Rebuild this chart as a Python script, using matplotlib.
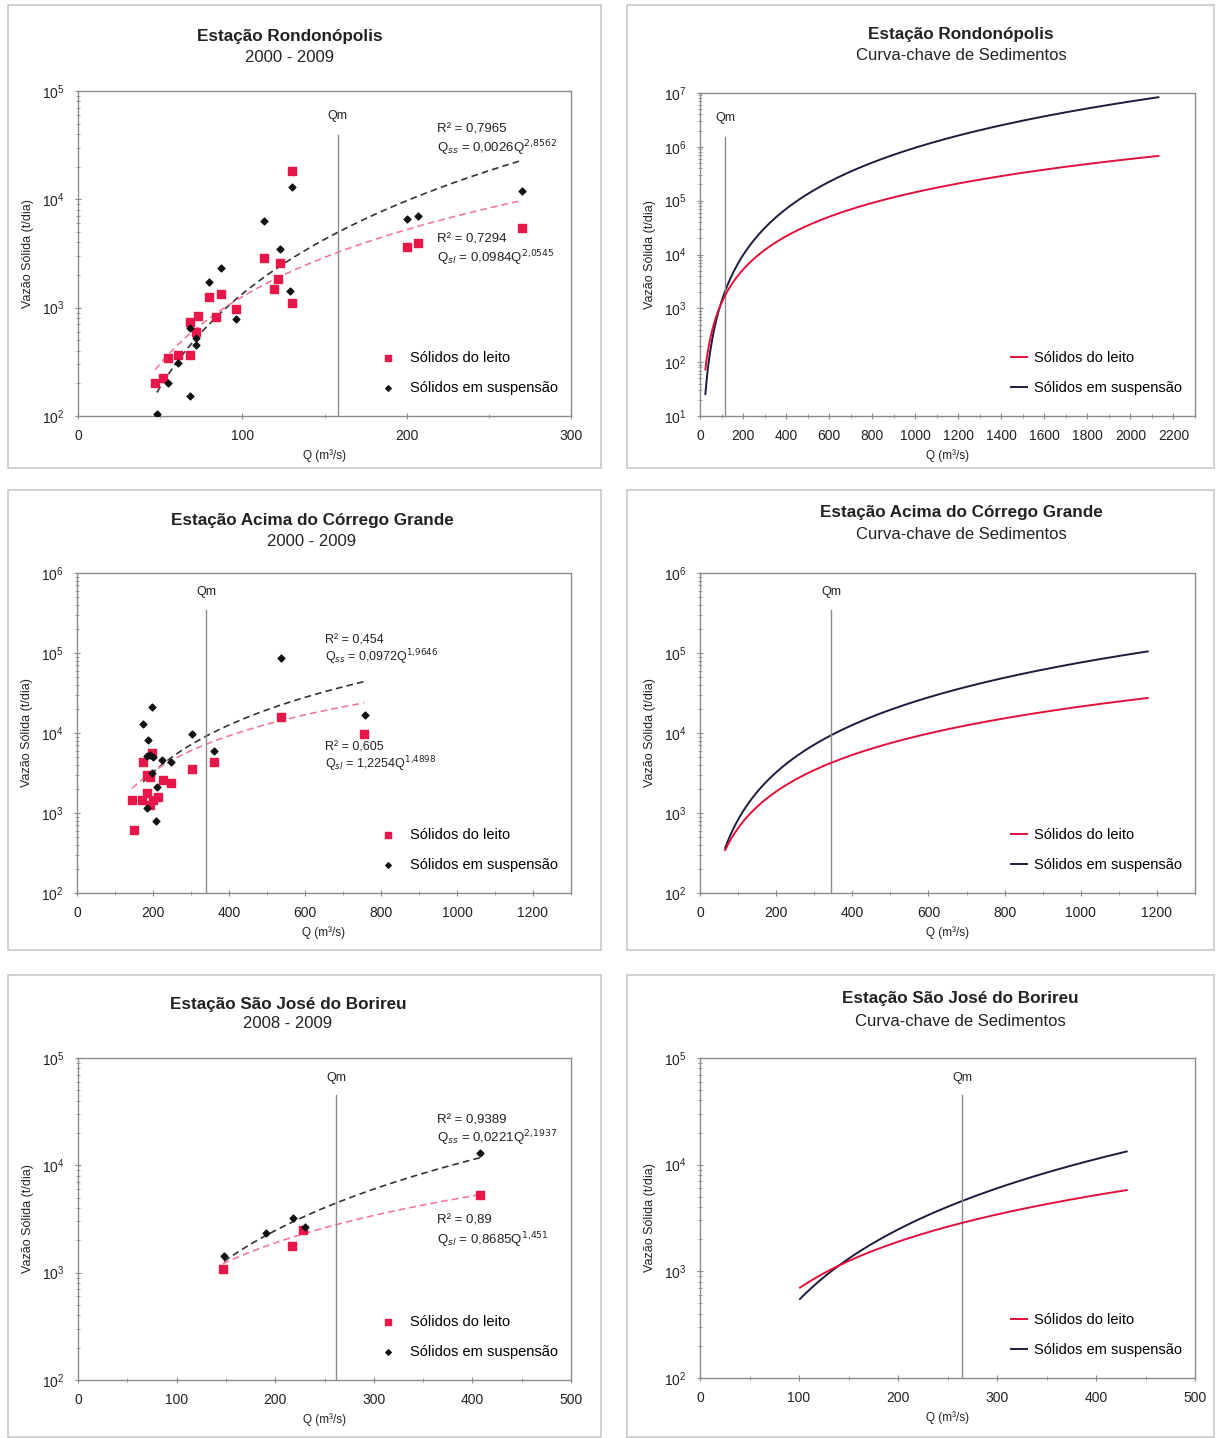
import numpy as np
import matplotlib
matplotlib.use("Agg")
import matplotlib.pyplot as plt
from matplotlib.patches import Rectangle
from matplotlib.ticker import MultipleLocator

plt.rcParams["font.family"] = ["Liberation Sans", "DejaVu Sans"]

RED = "#e8174a"
RED_FIT = "#f27a98"
BLACK = "#111111"
NAVY = "#1c1c3c"
GREY = "#8c8c8c"

# --- Rondonópolis 2000-2009 ---
rond_leito_q = [47, 52, 55, 61, 68, 68, 73, 72, 80, 87, 84, 96, 113, 123, 122, 119, 130, 130, 200, 207, 270]
rond_leito_qs = [202, 224, 343, 366, 366, 738, 838, 597, 1256, 1340, 820, 973, 2876, 2590, 1840, 1480, 18200, 1100, 3630, 3970, 5450]
rond_susp_q = [48, 55, 61, 68, 68, 72, 72, 80, 87, 96, 113, 123, 130, 129, 200, 207, 270]
rond_susp_qs = [104, 202, 309, 153, 648, 525, 450, 1726, 2324, 786, 6300, 3470, 13000, 1426, 6590, 7030, 11970]

# --- Acima do Córrego Grande 2000-2009 ---
acg_leito_q = [150, 145, 171, 174, 184, 193, 198, 184, 193, 200, 214, 227, 248, 303, 361, 536, 755]
acg_leito_qs = [613, 1450, 1450, 4360, 2990, 2800, 5600, 1780, 1260, 1450, 1590, 2580, 2370, 3560, 4360, 15850, 9700]
acg_susp_q = [174, 198, 187, 184, 193, 200, 224, 248, 303, 361, 536, 184, 208, 211, 198, 757]
acg_susp_qs = [12900, 21000, 8100, 5200, 5300, 5000, 4600, 4350, 9700, 5960, 87000, 1150, 790, 2100, 3160, 16800]

# --- São José do Borireu 2008-2009 ---
sjb_leito_q = [147, 217, 228, 408]
sjb_leito_qs = [1090, 1790, 2500, 5250]
sjb_susp_q = [148, 191, 218, 230, 408]
sjb_susp_qs = [1440, 2360, 3240, 2650, 12900]

# power-law coefficients (a, b) as printed on the charts
fit_leito = {"rond": (0.0984, 2.0545), "acg": (1.2254, 1.4898), "sjb": (0.8685, 1.451)}
fit_susp = {"rond": (0.0026, 2.8562), "acg": (0.0972, 1.9646), "sjb": (0.0221, 2.1937)}
# rating curve used on the right-hand panels
curve_leito = {"rond": (0.0984, 2.0545), "acg": (0.59, 1.52), "sjb": (0.8685, 1.451)}
curve_susp = fit_susp
curve_range = {"rond": (25, 2130), "acg": (66, 1176), "sjb": (101, 431)}

qm_left = {"rond": 158, "acg": 340, "sjb": 262}
qm_right = {"rond": 117, "acg": 345, "sjb": 265}

labels_fit = {
    "rond": [("R² = 0,7965", r"Q$_{ss}$ = 0,0026Q$^{2{,}8562}$"), ("R² = 0,7294", r"Q$_{sl}$ = 0,0984Q$^{2{,}0545}$")],
    "acg": [("R² = 0,454", r"Q$_{ss}$ = 0,0972Q$^{1{,}9646}$"), ("R² = 0,605", r"Q$_{sl}$ = 1,2254Q$^{1{,}4898}$")],
    "sjb": [("R² = 0,9389", r"Q$_{ss}$ = 0,0221Q$^{2{,}1937}$"), ("R² = 0,89", r"Q$_{sl}$ = 0,8685Q$^{1{,}451}$")],
}

W, H = 1216, 1438
fig = plt.figure(figsize=(W / 100, H / 100), dpi=100)


def frac_box(l, t, r, b):
    return [l / W, 1 - b / H, (r - l) / W, (b - t) / H]


def style_axes(ax, xlim, xticks, ylim):
    ax.set_yscale("log")
    ax.set_xlim(*xlim)
    ax.set_ylim(*ylim)
    ax.set_xticks(xticks)
    ax.xaxis.set_minor_locator(MultipleLocator((xticks[1] - xticks[0]) / 2))
    for s in ax.spines.values():
        s.set_color(GREY)
        s.set_linewidth(1.0)
    ax.tick_params(axis="both", which="both", colors=GREY, labelcolor="#222222", labelsize=10,
                   direction="inout", pad=7)
    ax.tick_params(axis="both", which="minor", length=3)
    ax.tick_params(axis="both", which="major", length=5)
    ax.set_xlabel("Q (m³/s)", fontsize=8.5, color="#222222", labelpad=4)
    ax.set_ylabel("Vazão Sólida (t/dia)", fontsize=9, color="#222222", labelpad=6)


def qm_line(ax, qm, ytop, ylab):
    ax.axvline(qm, ymin=0, ymax=ytop, color=GREY, lw=1.0)
    ax.text(qm, ylab, "Qm", transform=ax.get_xaxis_transform(), ha="center", va="center", fontsize=9, color="#222222")


def left_panel(box, key, xlim, xticks, ylim, leito, susp, txt_pos, qm_pos, fs=9.5):
    ax = fig.add_axes(frac_box(*box))
    style_axes(ax, xlim, xticks, ylim)
    lq, ls = leito
    sq, ss = susp
    a, b = fit_susp[key]
    q = np.linspace(min(sq), max(sq), 200)
    ax.plot(q, a * q ** b, ls=(0, (4, 2.5)), color="#333333", lw=1.2, zorder=2)
    a, b = fit_leito[key]
    q = np.linspace(min(lq), max(lq), 200)
    ax.plot(q, a * q ** b, ls=(0, (4, 2.5)), color=RED_FIT, lw=1.2, zorder=2)
    ax.scatter(lq, ls, marker="s", s=30, color=RED, zorder=3, label="Sólidos do leito")
    ax.scatter(sq, ss, marker="D", s=12, color=BLACK, zorder=4, label="Sólidos em suspensão")
    x0, ys = txt_pos
    for (r2, eq), (y1, y2) in zip(labels_fit[key], ys):
        ax.text(x0, y1, r2, transform=ax.transAxes, fontsize=fs, color="#222222", va="center")
        ax.text(x0, y2, eq, transform=ax.transAxes, fontsize=fs, color="#222222", va="center")
    qm_line(ax, qm_left[key], *qm_pos)
    ax.legend(loc="lower right", bbox_to_anchor=(1.0, 0.025), frameon=False, fontsize=10.5,
              labelspacing=1.1, handletextpad=0.5, markerscale=0.8)
    return ax


def right_panel(box, key, xlim, xticks, ylim, qm_pos):
    ax = fig.add_axes(frac_box(*box))
    style_axes(ax, xlim, xticks, ylim)
    q0, q1 = curve_range[key]
    q = np.linspace(q0, q1, 400)
    a, b = curve_leito[key]
    ax.plot(q, a * q ** b, color="#e0103a", lw=1.4, label="Sólidos do leito", zorder=3)
    a, b = curve_susp[key]
    ax.plot(q, a * q ** b, color=NAVY, lw=1.4, label="Sólidos em suspensão", zorder=2)
    qm_line(ax, qm_right[key], *qm_pos)
    ax.legend(loc="lower right", bbox_to_anchor=(1.0, 0.025), frameon=False, fontsize=10.5,
              labelspacing=1.1, handlelength=1.1, handletextpad=0.5)
    return ax


# panel frames
for (l, t, r, b) in [(8, 5, 601, 468), (627, 5, 1214, 468), (8, 490, 601, 950),
                     (627, 490, 1214, 950), (8, 975, 601, 1437), (627, 975, 1214, 1437)]:
    fig.patches.append(Rectangle((l / W, 1 - b / H), (r - l) / W, (b - t) / H, transform=fig.transFigure,
                                 fill=False, edgecolor="#c8c8c8", lw=1.2))

# row 1
left_panel((78, 91, 571, 416), "rond", (0, 300), [0, 100, 200, 300], (1e2, 1e5),
           (rond_leito_q, rond_leito_qs), (rond_susp_q, rond_susp_qs),
           (0.728, [(0.883, 0.825), (0.542, 0.486)]), (0.865, 0.923))
right_panel((700, 93, 1195, 416), "rond", (0, 2300), list(range(0, 2201, 200)), (1e1, 1e7), (0.865, 0.923))

# row 2
left_panel((77, 573, 571, 893), "acg", (0, 1300), list(range(0, 1201, 200)), (1e2, 1e6),
           (acg_leito_q, acg_leito_qs), (acg_susp_q, acg_susp_qs),
           (0.502, [(0.79, 0.737), (0.455, 0.402)]), (0.884, 0.94), fs=9)
right_panel((700, 573, 1195, 893), "acg", (0, 1300), list(range(0, 1201, 200)), (1e2, 1e6), (0.884, 0.94))

# row 3
left_panel((78, 1058, 571, 1380), "sjb", (0, 500), list(range(0, 501, 100)), (1e2, 1e5),
           (sjb_leito_q, sjb_leito_qs), (sjb_susp_q, sjb_susp_qs),
           (0.728, [(0.807, 0.752), (0.494, 0.435)]), (0.885, 0.938))
right_panel((700, 1058, 1195, 1378), "sjb", (0, 500), list(range(0, 501, 100)), (1e2, 1e5), (0.885, 0.938))

# titles
titles = [
    (290, 37, 57, "Estação Rondonópolis", "2000 - 2009"),
    (961, 35, 56, "Estação Rondonópolis", "Curva-chave de Sedimentos"),
    (312, 521, 541, "Estação Acima do Córrego Grande", "2000 - 2009"),
    (961, 513, 535, "Estação Acima do Córrego Grande", "Curva-chave de Sedimentos"),
    (288, 1004, 1024, "Estação São José do Borireu", "2008 - 2009"),
    (960, 998, 1021, "Estação São José do Borireu", "Curva-chave de Sedimentos"),
]
for x, y1, y2, t1, t2 in titles:
    fig.text(x / W, 1 - y1 / H, t1, ha="center", va="center", fontsize=12.3, fontweight="bold", color="#222222")
    fig.text(x / W, 1 - y2 / H, t2, ha="center", va="center", fontsize=12, color="#222222")

fig.savefig("out.png", dpi=100, facecolor="white")
